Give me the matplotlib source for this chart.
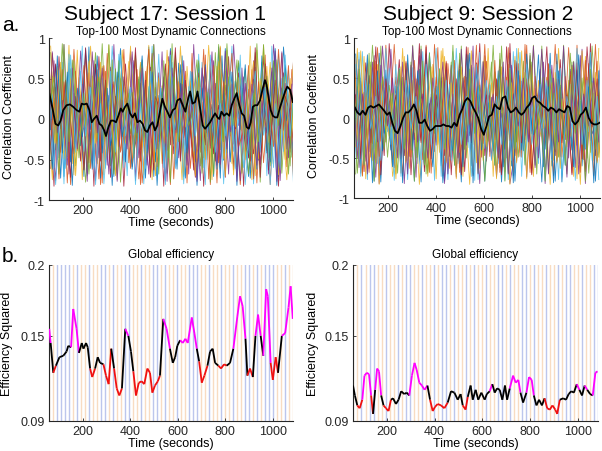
import numpy as np
import matplotlib.pyplot as plt
from matplotlib.collections import LineCollection

plt.rcParams['font.family'] = ['Liberation Sans', 'DejaVu Sans']
plt.rcParams['axes.unicode_minus'] = False

# ---------------- data ----------------
x_range = [58, 1085]
x_ticks = [200, 400, 600, 800, 1000]
corr_ticks = [-1, -0.5, 0, 0.5, 1]
corr_tick_labels = ['-1', '-0.5', '0', '0.5', '1']
eff_ticks = [0.09, 0.15, 0.2]
eff_tick_labels = ['0.09', '0.15', '0.2']

# sample times of the individual connection traces (three staggered windows)
conn_t_a = [58, 79, 100, 121, 142, 163, 184, 205, 226, 247, 268, 289, 310, 331, 352, 373, 394,
            415, 436, 457, 478, 499, 520, 541, 562, 583, 604, 625, 646, 667, 688, 709, 730, 751,
            772, 793, 814, 835, 856, 877, 898, 919, 940, 961, 982, 1003, 1024, 1045, 1066, 1087]
conn_t_b = [65, 86, 107, 128, 149, 170, 191, 212, 233, 254, 275, 296, 317, 338, 359, 380, 401,
            422, 443, 464, 485, 506, 527, 548, 569, 590, 611, 632, 653, 674, 695, 716, 737, 758,
            779, 800, 821, 842, 863, 884, 905, 926, 947, 968, 989, 1010, 1031, 1052, 1073, 1094]
conn_t_c = [51, 72, 93, 114, 135, 156, 177, 198, 219, 240, 261, 282, 303, 324, 345, 366, 387,
            408, 429, 450, 471, 492, 513, 534, 555, 576, 597, 618, 639, 660, 681, 702, 723, 744,
            765, 786, 807, 828, 849, 870, 891, 912, 933, 954, 975, 996, 1017, 1038, 1059, 1080]

# connection traces: one digit per sample, level d -> correlation -0.95 + 0.2*d (+ line offset)
conn_s17 = [
    "8271836192" "7361825374" "9162738152" "8361927384" "1726381952",
    "2736184927" "1836372918" "2745193826" "3917284615" "2839172638",
    "6183729164" "2837195263" "8172946183" "7261839274" "6193827516",
    "3829164738" "2619374825" "1937462819" "3758261947" "2836195728",
    "9374826159" "3728164937" "2658193746" "2819374658" "3917264829",
    "1628374915" "2739461827" "3916284735" "1827364917" "2638194725",
    "7194637281" "9462817354" "6281937462" "8173649281" "7359261847",
    "4817263948" "1735926481" "7263948172" "5836192748" "1637294851",
    "2958173625" "8194736281" "5927364819" "2637185926" "4817365928",
    "8362917483" "6192748361" "9273846152" "7394826173" "5829361748",
    "5182739461" "7283649172" "8361927456" "1837294617" "3826491735",
    "1739284617" "3928175638" "2846193725" "8162739481" "6293748162",
    "7281946372" "8153927461" "7392846173" "9264817352" "8174629381",
    "3847162938" "2716483927" "1658392741" "6382917463" "2918374652",
    "6293817462" "9371846259" "3817462938" "1746293817" "4629381756",
    "2617394826" "1847392615" "9263817462" "3918275634" "8172639481",
    "9382716493" "8261739482" "7163829471" "6283917462" "9174836271",
    "1946283719" "4827163948" "2639184726" "1849263718" "3726481937",
    "5719382615" "7391846273" "6918273645" "8261937485" "1639284716",
    "4162938471" "6283947162" "8371926384" "7193648291" "5837162948",
]
conn_offset_s17 = [0.04, -0.06, 0.00, 0.07, -0.03, 0.05, -0.08, 0.02, -0.04, 0.06,
                   -0.01, 0.08, -0.05, 0.03, -0.07, 0.01, 0.05, -0.02, 0.07, -0.06]

conn_s9 = [
    "2837194628" "3718294617" "2839461728" "3917462839" "1728463917",
    "7162839471" "8263917482" "6173928461" "7382916473" "8261937482",
    "3916284713" "9274618392" "4718362917" "4829361748" "2937184629",
    "8263917428" "1749263816" "8274619382" "6137492816" "3748291637",
    "1748293617" "4829163748" "1927364819" "2736481927" "4618372941",
    "6391827463" "7182936471" "9263817462" "8194736285" "7193826471",
    "4817362948" "2639184726" "3817492638" "1927384615" "2837461928",
    "9274618372" "8361947283" "6192837461" "7283946172" "9163827456",
    "2618394726" "1847263918" "4729183647" "2918374628" "1739462817",
    "7392816473" "9261847392" "8361729485" "6193827461" "8274619382",
    "3726184937" "2819463728" "1938472615" "3827164938" "2618394726",
    "8163947261" "7392816473" "9274618392" "7162839471" "6293847162",
    "1927364818" "3746291837" "2648193726" "1839264718" "4827163948",
    "6283917462" "8173926481" "7193846271" "9283716492" "7361829473",
    "2749183627" "1938462715" "3829174638" "2718364927" "1846293718",
    "9361827493" "6283719462" "8174639281" "6382917463" "9274618392",
    "3918274618" "2736481927" "1849263718" "4729183647" "2638194726",
    "7261839472" "8193627481" "6273918462" "8164739281" "7392816473",
    "4829163748" "3617294836" "2938471629" "1837294618" "3729461837",
    "8174629381" "7462839172" "9361847263" "7291836472" "8164937261",
]
conn_offset_s9 = [-0.04, 0.06, 0.02, -0.07, 0.05, -0.02, 0.08, -0.05, 0.03, -0.08,
                  0.01, 0.06, -0.03, 0.04, -0.06, 0.07, -0.01, 0.05, -0.04, 0.02]

# mean connection strength (black line)
mean_t_s17 = [59, 73, 85, 97, 107, 118, 132, 146, 160, 174, 186, 196, 205, 217, 228, 238, 247, 259, 270, 280,
              290, 298, 308, 319, 329, 340, 350, 360, 368, 378, 388, 399, 410, 420, 430, 441, 452, 462, 472, 483,
              494, 504, 514, 525, 535, 546, 556, 567, 579, 589, 598, 610, 621, 632, 642, 652, 662, 673, 683, 694,
              705, 715, 726, 736, 747, 757, 767, 775, 784, 795, 806, 817, 827, 838, 848, 859, 869, 879, 890, 899,
              907, 916, 925, 935, 946, 958, 967, 974, 983, 991, 1000, 1010, 1019, 1031, 1042, 1052, 1061, 1073, 1084]
mean_s17 = [0.32, 0.13, -0.06, -0.08, -0.02, 0.11, 0.17, 0.18, 0.15, 0.11,
            0.09, 0.19, 0.18, 0.19, 0.11, -0.04, 0.00, 0.04, -0.06, -0.08,
            -0.14, -0.21, -0.10, -0.02, -0.02, -0.04, 0.04, 0.13, 0.09, 0.15,
            0.19, 0.07, 0.02, 0.07, -0.04, -0.02, -0.06, -0.14, -0.16, -0.08,
            -0.04, -0.14, -0.08, 0.09, 0.25, 0.15, 0.09, 0.02, 0.11, 0.13,
            0.23, 0.25, 0.17, 0.09, 0.23, 0.34, 0.19, 0.21, 0.34, 0.13,
            -0.08, -0.12, -0.08, -0.04, 0.02, 0.07, 0.02, 0.00, 0.09, 0.04,
            0.07, 0.04, 0.17, 0.25, 0.32, 0.17, 0.07, 0.04, -0.10, -0.12,
            -0.04, 0.15, 0.17, 0.17, 0.23, 0.38, 0.48, 0.42, 0.25, 0.11,
            0.04, 0.02, 0.02, 0.15, 0.25, 0.34, 0.40, 0.36, 0.21]

mean_t_s9 = [62, 72, 83, 94, 106, 117, 128, 139, 151, 162, 173, 184, 196, 207, 218, 229, 240, 252, 263, 274,
             285, 297, 308, 319, 330, 342, 353, 364, 375, 386, 398, 409, 420, 431, 443, 454, 465, 476, 487, 499,
             510, 521, 532, 544, 555, 566, 577, 589, 600, 611, 622, 633, 645, 656, 667, 678, 690, 701, 712, 723,
             734, 746, 757, 768, 779, 791, 802, 813, 824, 835, 847, 858, 869, 880, 892, 903, 914, 925, 937, 948,
             959, 970, 981, 993, 1004, 1015, 1026, 1038, 1049, 1060, 1071, 1083]
mean_s9 = [0.13, 0.07, 0.04, 0.09, 0.04, 0.13, 0.15, 0.13, 0.15, 0.17,
           0.13, 0.09, 0.04, 0.07, -0.06, -0.16, -0.19, -0.10, 0.00, 0.07,
           0.07, 0.11, 0.17, 0.09, -0.06, -0.06, -0.02, -0.10, -0.16, -0.14,
           -0.10, -0.10, -0.10, -0.08, -0.10, -0.10, -0.12, -0.06, -0.10, 0.04,
           0.11, 0.21, 0.25, 0.21, 0.13, 0.07, 0.00, -0.14, -0.21, -0.10,
           0.02, 0.04, 0.17, 0.13, 0.11, 0.25, 0.27, 0.13, 0.07, 0.09,
           0.13, 0.07, 0.04, 0.07, 0.13, 0.17, 0.25, 0.27, 0.21, 0.19,
           0.15, 0.13, 0.09, 0.13, 0.11, 0.07, 0.11, 0.09, 0.07, 0.15,
           0.13, -0.04, -0.08, -0.04, 0.04, 0.07, 0.13, 0.00, -0.06, -0.08,
           -0.08, -0.06]

# global efficiency
eff_t_s17 = [59, 65, 76, 87, 102, 118, 132, 139, 151, 160, 174, 184, 196, 203, 214, 221, 231, 240, 252, 263,
             273, 287, 298, 309, 320, 332, 343, 354, 365, 379, 392, 403, 413, 424, 436, 448, 459, 472, 483, 493,
             504, 516, 525, 539, 553, 567, 579, 589, 598, 610, 621, 632, 642, 659, 670, 680, 690, 701, 712, 725,
             736, 747, 757, 771, 782, 795, 806, 820, 834, 851, 862, 873, 885, 893, 904, 916, 927, 938, 949, 960,
             972, 979, 991, 1000, 1012, 1022, 1038, 1052, 1066, 1075, 1084]
eff_s17 = [0.155, 0.145, 0.124, 0.129, 0.135, 0.136, 0.139, 0.143, 0.142, 0.169,
           0.155, 0.138, 0.145, 0.141, 0.145, 0.142, 0.127, 0.121, 0.127, 0.135,
           0.131, 0.130, 0.122, 0.116, 0.141, 0.127, 0.113, 0.108, 0.113, 0.155,
           0.150, 0.139, 0.125, 0.108, 0.117, 0.118, 0.116, 0.127, 0.124, 0.110,
           0.115, 0.118, 0.122, 0.162, 0.155, 0.141, 0.131, 0.135, 0.143, 0.147,
           0.145, 0.148, 0.145, 0.163, 0.152, 0.141, 0.132, 0.117, 0.122, 0.129,
           0.139, 0.141, 0.131, 0.129, 0.127, 0.130, 0.129, 0.131, 0.141, 0.164,
           0.178, 0.171, 0.148, 0.122, 0.127, 0.121, 0.150, 0.165, 0.150, 0.136,
           0.183, 0.178, 0.131, 0.119, 0.135, 0.124, 0.150, 0.152, 0.170, 0.185,
           0.162]
eff_limits_s17 = [0.130, 0.145]

eff_t_s9 = [58, 66, 76, 86, 97, 106, 116, 125, 134, 142, 151, 159, 167, 176, 186, 196, 207, 217, 226, 238,
            249, 260, 273, 283, 294, 305, 316, 325, 336, 347, 358, 370, 381, 392, 402, 413, 427, 441, 455, 469,
            483, 497, 509, 518, 530, 539, 551, 560, 572, 583, 596, 610, 619, 631, 642, 652, 662, 673, 684, 695,
            704, 715, 729, 740, 751, 760, 771, 785, 796, 807, 816, 827, 838, 850, 861, 872, 883, 894, 906, 914,
            925, 939, 951, 962, 973, 984, 996, 1007, 1018, 1029, 1040, 1052, 1063, 1074, 1083]
eff_s9 = [0.115, 0.108, 0.101, 0.099, 0.105, 0.122, 0.124, 0.123, 0.108, 0.095,
          0.112, 0.127, 0.125, 0.108, 0.101, 0.099, 0.097, 0.105, 0.106, 0.102,
          0.105, 0.111, 0.109, 0.110, 0.108, 0.122, 0.131, 0.126, 0.117, 0.115,
          0.112, 0.115, 0.105, 0.097, 0.100, 0.102, 0.101, 0.099, 0.103, 0.111,
          0.110, 0.105, 0.109, 0.101, 0.098, 0.107, 0.115, 0.105, 0.112, 0.105,
          0.110, 0.105, 0.109, 0.111, 0.116, 0.110, 0.113, 0.112, 0.105, 0.115,
          0.105, 0.113, 0.122, 0.117, 0.119, 0.110, 0.103, 0.110, 0.121, 0.119,
          0.108, 0.101, 0.105, 0.101, 0.106, 0.099, 0.098, 0.101, 0.098, 0.095,
          0.105, 0.106, 0.105, 0.109, 0.111, 0.110, 0.116, 0.112, 0.108, 0.115,
          0.112, 0.109, 0.108, 0.124, 0.125]
eff_limits_s9 = [0.103, 0.113]

# brain state per window (b = blue, o = orange)
state_start = 60
state_step = 16.8
states_s17 = "oobbbbobooboobboboobbooboobbobooboobbbooboobooboobbobobbbooboob"
states_s9 = "oobobbooboobobbooboobobboboobobooboobboboobbobooboobobbooboobbo"

# ---------------- style ----------------
conn_colors = ['#0072BD', '#D95319', '#EDB120', '#7E2F8E', '#77AC30', '#4DBEEE', '#A2142F']
state_colors = {'b': '#BCC6EC', 'o': '#F8DCC2'}
axis_color = '#262626'

fig = plt.figure(figsize=(6.02, 4.52), dpi=100)


def px_axes(left, top, right, bottom):
    W, H = 602, 452
    return fig.add_axes([left / W, (H - bottom) / H, (right - left) / W, (bottom - top) / H])


def style(ax):
    for s in ['top', 'right']:
        ax.spines[s].set_visible(False)
    for s in ['left', 'bottom']:
        ax.spines[s].set_color(axis_color)
        ax.spines[s].set_linewidth(0.8)
    ax.tick_params(direction='in', length=2, width=0.6, colors=axis_color,
                   labelsize=9, pad=3)
    ax.set_xlim(x_range)
    ax.set_xticks(x_ticks)
    ax.set_xticklabels([str(v) for v in x_ticks])
    ax.set_xlabel('Time (seconds)', fontsize=9, labelpad=0)


def conn_panel(ax, traces, offsets, mean_t, mean_v):
    grids = [conn_t_a, conn_t_b, conn_t_c]
    for i, row in enumerate(traces):
        vals = [-0.95 + 0.2 * int(c) + offsets[i] for c in row]
        ts = grids[i % 3]
        ax.plot(ts[:len(vals)], vals, color=conn_colors[i % 7], lw=0.6, alpha=0.85)
    ax.plot(mean_t, mean_v, color='black', lw=1.3)
    ax.set_ylim(-1, 1)
    ax.set_yticks(corr_ticks)
    ax.set_yticklabels(corr_tick_labels)
    style(ax)
    ax.set_ylabel('Correlation Coefficient', fontsize=9)
    ax.yaxis.set_label_coords(-0.14, 0.52)
    ax.set_title('Top-100 Most Dynamic Connections', fontsize=8.5, pad=3)


def eff_panel(ax, states, t, v, limits):
    for i, s in enumerate(states):
        ax.axvline(state_start + i * state_step, color=state_colors[s], lw=1.0, zorder=0)
    t = np.asarray(t, float)
    v = np.asarray(v, float)
    pts = np.column_stack([t, v])
    segs = np.stack([pts[:-1], pts[1:]], axis=1)
    mid = (v[:-1] + v[1:]) / 2
    cols = ['#FF00FF' if m > limits[1] else ('#F01010' if m < limits[0] else 'black') for m in mid]
    ax.add_collection(LineCollection(segs, colors=cols, linewidths=1.3, zorder=3))
    ax.set_ylim(0.09, 0.2)
    ax.set_yticks(eff_ticks)
    ax.set_yticklabels(eff_tick_labels)
    style(ax)
    ax.set_ylabel('Efficiency Squared', fontsize=9)
    ax.set_title('Global efficiency', fontsize=8.5, pad=6)


ax1 = px_axes(49, 39, 293, 201)
conn_panel(ax1, conn_s17, conn_offset_s17, mean_t_s17, mean_s17)
ax2 = px_axes(354, 39, 600, 199)
conn_panel(ax2, conn_s9, conn_offset_s9, mean_t_s9, mean_s9)
ax3 = px_axes(49, 266, 293, 422)
eff_panel(ax3, states_s17, eff_t_s17, eff_s17, eff_limits_s17)
ax3.yaxis.set_label_coords(-0.148, 0.5)
ax4 = px_axes(353, 266, 598, 422)
eff_panel(ax4, states_s9, eff_t_s9, eff_s9, eff_limits_s9)
ax4.yaxis.set_label_coords(-0.14, 0.5)

fig.text(165 / 602, 1 - 20 / 452, 'Subject 17: Session 1', fontsize=15, ha='center', va='baseline')
fig.text(478 / 602, 1 - 20 / 452, 'Subject 9: Session 2', fontsize=15, ha='center', va='baseline')
fig.text(2 / 602, 1 - 31 / 452, 'a.', fontsize=15, ha='left', va='baseline')
fig.text(2 / 602, 1 - 262 / 452, 'b.', fontsize=15, ha='left', va='baseline')

fig.savefig('out.png', dpi=100)
